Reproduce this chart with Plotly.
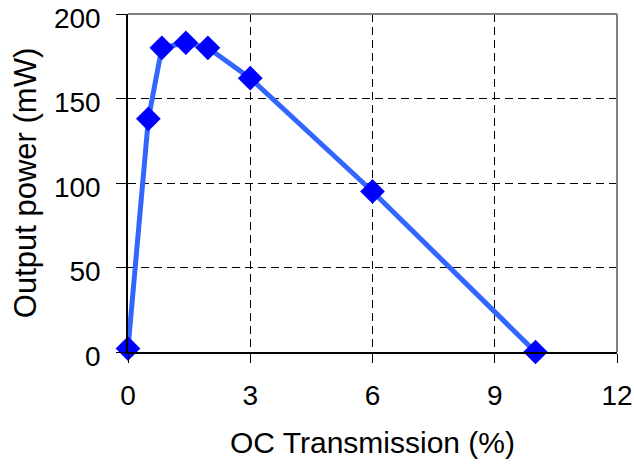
import plotly.graph_objects as go

# Output power versus output-coupler transmission
oc_transmission = [0, 0.5, 0.83, 1.42, 1.96, 3, 6, 10]
output_power = [2, 138, 180, 183, 180, 162, 95, 0]

x_ticks = [0, 3, 6, 9, 12]
y_ticks = [0, 50, 100, 150, 200]

font_family = "Liberation Sans, Arial, sans-serif"
tick_font = dict(size=28, color="black", family=font_family)

fig = go.Figure()
fig.add_trace(go.Scatter(
    x=oc_transmission,
    y=output_power,
    mode="lines+markers",
    line=dict(color="#3366FF", width=5),
    marker=dict(symbol="diamond", size=19, color="#0000FF"),
    cliponaxis=False,
    showlegend=False,
))

grid_dash = "8px,5px"
fig.update_xaxes(
    range=[0, 12], tickvals=x_ticks, ticks="outside", ticklen=9, tickcolor="black",
    showline=True, linecolor="black", linewidth=1.5,
    showgrid=True, gridcolor="black", gridwidth=1, griddash=grid_dash,
    zeroline=False, automargin=False, ticklabelstandoff=9, ticklabeloverflow="allow",
    tickfont=tick_font,
    title=dict(text="OC Transmission (%)", standoff=22,
               font=dict(size=30, color="black", family=font_family)),
)
fig.update_yaxes(
    range=[0, 200], tickvals=y_ticks, ticks="outside", ticklen=10, tickcolor="black",
    showline=True, linecolor="black", linewidth=1.5,
    showgrid=True, gridcolor="black", gridwidth=1, griddash=grid_dash,
    zeroline=False, automargin=False, ticklabelstandoff=10, ticklabelshift=4,
    ticklabeloverflow="allow",
    tickfont=tick_font,
    title=dict(text="Output power (mW)", standoff=8,
               font=dict(size=31, color="black", family=font_family)),
)

# Grey frame on top and right edges of the plotting area
fig.add_shape(type="line", xref="paper", yref="paper", x0=0, x1=1, y0=1, y1=1,
              line=dict(color="#808080", width=2))
fig.add_shape(type="line", xref="paper", yref="paper", x0=1, x1=1, y0=0, y1=1,
              line=dict(color="#808080", width=2))

fig.update_layout(
    width=634, height=468,
    margin=dict(l=128, r=17, t=14, b=116),
    paper_bgcolor="white", plot_bgcolor="white",
    font=dict(family=font_family, color="black"),
)

fig.write_html("out.html")
